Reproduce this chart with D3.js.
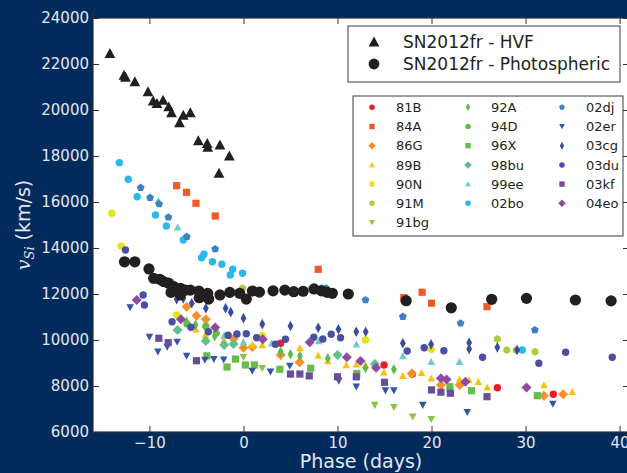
<!DOCTYPE html>
<html><head><meta charset="utf-8">
<script src="https://cdn.jsdelivr.net/npm/d3@7"></script>
<style>body{margin:0;background:#022b5d;} svg{display:block}</style>
</head><body><svg id="c" width="627" height="473"></svg>
<script>
// ---------- DATA ----------
const xTicks = [-10, 0, 10, 20, 30, 40];
const yTicks = [6000, 8000, 10000, 12000, 14000, 16000, 18000, 20000, 22000, 24000];

const hvfPhase = [-14.2,-12.7,-12.55,-11.55,-10.15,-9.6,-9.2,-8.55,-7.95,-7.65,-6.4,-6.8,-5.65,-4.8,-3.85,-3.8,-2.5,-1.5,-2.6];
const hvfVel   = [22460,21520,21430,21230,20800,20400,20290,20430,20140,19880,19780,19450,19880,18670,18550,18380,18480,18000,17250];

const photPhase = [-12.65,-11.55,-10.05,-9.55,-8.9,-8.5,-7.95,-7.7,-7.4,-6.7,-6.7,-6.15,-5.65,-4.75,-4.7,-3.8,-3.7,-2.5,-1.45,-0.4,0.3,0.95,1.7,3.15,4.4,5.35,6.35,7.5,8.3,8.9,9.45,11.15,17.3,22.1,26.4,30.1,35.3,39.1];
const photVel   = [13400,13400,13090,12680,12640,12540,12470,12070,12320,12250,11960,12170,12170,12130,11840,12030,11780,11960,12070,12030,11780,12130,12080,12140,12170,12100,12120,12220,12140,12070,12030,12000,11710,11400,11770,11810,11740,11700];

const sn81B = [[3.95,9860],[14.95,8913],[17.95,8520],[27.0,7926],[32.95,7640]];
const sn84A = [[-7.1,16710],[-6.05,16420],[-5.05,15945],[-3.0,15390],[7.95,13075],[17.05,11840],[19.0,12075],[20.0,11600],[25.9,11450]];
const sn86G = [[-6.05,11450],[-5.0,11050],[-4.0,10900],[-1.05,10050],[0.0,9660],[0.95,9700],[3.95,9350],[5.97,9035],[17.9,8540],[21.0,8043],[23.0,8043],[31.95,7580],[34.0,7640]];
const sn89B = [[-5.05,10465],[-4.05,10220],[-2.1,10000],[0.95,9800],[2.0,9783],[6.0,9650],[7.95,9320],[8.97,9087],[10.93,8913],[11.99,8943],[12.98,8913],[14.93,8596],[16.95,8448],[18.94,8578],[19.97,8335],[22.98,8290],[23.97,8261],[24.97,8187],[25.92,7943],[31.95,8043],[34.97,7752]];
const sn90N = [[-14.0,15510],[-13.0,14090],[-7.1,11090],[2.0,10190],[12.98,10000],[19.97,9596]];
const sn91M = [[-0.1,12250],[27.0,10043],[28.0,9565],[29.0,9565],[31.0,9490]];
const sn91bg = [[0.0,9250],[2.0,8770],[13.97,7170],[16.0,7074],[18.0,6665],[19.97,6552]];
const sn92A = [[-6.05,10796],[-5.1,10650],[-4.05,10580],[-3.05,10170],[3.95,9490],[5.0,9380],[6.0,9300],[8.97,9204],[12.98,8785],[16.0,8730]];
const sn94D = [[-6.0,10700],[-4.0,10600],[-2.9,10300]];
const sn96X = [[-3.9,9310],[-1.75,8825],[-0.85,9170],[0.2,8913],[1.17,8913],[3.87,8726],[7.15,8770],[12.05,8540],[21.95,7970],[24.25,7796],[31.25,7578]];
const sn98bu = [[-7.0,10435],[-4.0,9957],[-2.05,9783],[-1.05,9826],[10.0,9348],[13.97,8960]];
const sn99ee = [[-9.05,16057],[-7.0,14900],[-2.05,10200],[0.0,9926],[3.0,9857],[8.0,9957],[12.0,9813],[16.95,9304],[19.97,9057],[22.98,9057]];
const sn02bo = [[-13.2,17710],[-12.25,16990],[-11.3,16230],[-9.35,15435],[-8.2,14957],[-6.4,14348],[-4.45,13578],[-4.2,13726],[-3.3,13404],[-2.3,13291],[-1.15,13074],[-1.4,12826],[-0.1,12900],[8.3,12250],[29.65,9565]];
const sn02dj = [[-10.93,16622],[-9.93,16187],[-8.97,15913],[-7.98,15335],[-6.03,14491],[-3.01,13957],[8.8,12250],[12.98,11739],[16.95,11013],[23.09,10726],[30.99,10435]];
const sn02er = [[-12.05,11410],[-10.0,10130],[-9.1,9490],[-8.1,9700],[-7.05,9910],[-6.05,9304],[-4.1,9130],[-3.15,9165],[-2.1,9145],[0.93,8650],[2.87,8620],[4.93,8870],[10.14,8217],[12.0,7970],[15.1,7800],[16.0,7800],[19.07,7170],[23.8,6860],[32.9,7220]];
const sn03cg = [[-7.1,11770],[-6.4,11810],[-5.5,11600],[-4.0,11380],[-1.9,11380],[-1.35,11210],[0.0,10950],[2.0,10690],[5.0,10610],[7.95,10535],[10.1,10465],[12.0,10360],[13.0,10360],[16.95,9860],[19.95,9810],[24.0,9880],[24.0,9610],[27.0,9680],[29.1,9565]];
const sn03du = [[-12.55,13913],[-10.67,11957],[-10.53,11522],[-7.59,10796],[-5.59,10552],[-3.74,10361],[-1.63,10204],[-0.69,10261],[0.3,10274],[1.41,10100],[3.4,9813],[4.47,10030],[7.48,10117],[8.44,10043],[9.33,10248],[10.32,10100],[17.41,9522],[19.22,9665],[21.31,9535],[25.43,9248],[31.41,8987],[34.26,9465],[39.22,9248]];
const sn03kf = [[-9.0,10075],[-8.0,9885],[-5.0,9100],[5.0,8520],[6.0,8520],[7.0,8440],[10.0,8400],[12.0,8400],[15.0,8160],[20.0,7830],[21.0,7730],[22.0,7685],[25.9,7535]];
const sn04eo = [[-11.35,11740],[-6.65,10900],[-3.0,10540],[2.05,10030],[7.05,9900],[11.0,9250],[12.45,9090],[14.1,8790],[21.0,8335],[21.6,8280],[23.6,8190],[30.1,7930]];

const seriesNames = ["81B","84A","86G","89B","90N","91M","91bg","92A","94D","96X","98bu","99ee","02bo","02dj","02er","03cg","03du","03kf","04eo"];
const seriesData = [sn81B,sn84A,sn86G,sn89B,sn90N,sn91M,sn91bg,sn92A,sn94D,sn96X,sn98bu,sn99ee,sn02bo,sn02dj,sn02er,sn03cg,sn03du,sn03kf,sn04eo];

// ---------- STYLE ----------
const seriesColors = ["#ec1c24","#f15a24","#f7902a","#fdc010","#e4e21b","#a8cf3a","#86c441","#5eb94a","#66bc46","#66bc48","#5ebf8c","#6ccbcb","#2ab8ec","#3d80c3","#3456a6","#3a4c9e","#4a4fa2","#6a4c9d","#8d4b9f"];
const seriesShapes = ["circle","square","diamond","triUp","circle","hex","triDown","thin","circle","square","diamond","triUp","circle","pent","triDown","thin","circle","square","diamond"];
const shapeSize = {circle:3.7, square:3.6, diamond:5.0, thin:5.3, triUp:3.8, triDown:3.8, pent:4.1, hex:4.0};

function markerPath(shape, r) {
  const p = d3.path();
  if (shape === "circle") { p.moveTo(r,0); p.arc(0,0,r,0,2*Math.PI); }
  else if (shape === "square") { p.rect(-r,-r,2*r,2*r); }
  else if (shape === "diamond") { p.moveTo(0,-r); p.lineTo(r,0); p.lineTo(0,r); p.lineTo(-r,0); p.closePath(); }
  else if (shape === "thin") { const w=r*0.55; p.moveTo(0,-r); p.lineTo(w,0); p.lineTo(0,r); p.lineTo(-w,0); p.closePath(); }
  else if (shape === "triUp") { p.moveTo(0,-r); p.lineTo(r,r*0.85); p.lineTo(-r,r*0.85); p.closePath(); }
  else if (shape === "triDown") { p.moveTo(0,r); p.lineTo(r,-r*0.85); p.lineTo(-r,-r*0.85); p.closePath(); }
  else if (shape === "pent" || shape === "hex") {
    const n = shape === "pent" ? 5 : 6;
    for (let i=0;i<n;i++){ const a=-Math.PI/2+i*2*Math.PI/n; const px=r*Math.cos(a), py=r*Math.sin(a); if(i===0)p.moveTo(px,py); else p.lineTo(px,py);} p.closePath();
  }
  return p.toString();
}

// ---------- CHART ----------
const svg = d3.select("#c");
const W=627, H=473;
svg.append("rect").attr("width",W).attr("height",H).attr("fill","#022b5d");
const L=93, R=629, T=18, B=432;
const x = d3.scaleLinear().domain([-16,41]).range([L,R]);
const y = d3.scaleLinear().domain([6000,24000]).range([B,T]);

svg.append("rect").attr("x",L).attr("y",T).attr("width",R-L).attr("height",B-T).attr("fill","#ffffff");

const plot = svg.append("g");
seriesData.forEach((data,i)=>{
  const path = markerPath(seriesShapes[i], shapeSize[seriesShapes[i]]);
  plot.append("g").selectAll("path").data(data).join("path")
    .attr("d", path)
    .attr("transform", d=>`translate(${x(d[0])},${y(d[1])})`)
    .attr("fill", seriesColors[i]);
});
const phot = photPhase.map((p,i)=>[p,photVel[i]]);
const hvf = hvfPhase.map((p,i)=>[p,hvfVel[i]]);
plot.append("g").selectAll("path").data(phot).join("path")
  .attr("d", markerPath("circle",5.6))
  .attr("transform", d=>`translate(${x(d[0])},${y(d[1])})`).attr("fill","#231f20");
plot.append("g").selectAll("path").data(hvf).join("path")
  .attr("d", markerPath("triUp",5.4))
  .attr("transform", d=>`translate(${x(d[0])},${y(d[1])})`).attr("fill","#231f20");

// axes
const tickCol = "#e4e7ee";
const font = "DejaVu Sans, sans-serif";
const gx = svg.append("g").attr("transform",`translate(0,${B})`)
  .call(d3.axisBottom(x).tickValues(xTicks).tickSizeInner(-6).tickSizeOuter(0).tickPadding(5));
const gy = svg.append("g").attr("transform",`translate(${L},0)`)
  .call(d3.axisLeft(y).tickValues(yTicks).tickFormat(d3.format("d")).tickSizeInner(-6).tickSizeOuter(0).tickPadding(4));
const gt = svg.append("g").attr("transform",`translate(0,${T})`)
  .call(d3.axisTop(x).tickValues(xTicks).tickSizeInner(-6).tickSizeOuter(0).tickFormat(""));
const gr = svg.append("g").attr("transform",`translate(${R},0)`)
  .call(d3.axisRight(y).tickValues(yTicks).tickSizeInner(-6).tickSizeOuter(0).tickFormat(""));
[gx,gy,gt,gr].forEach(g=>{
  g.select(".domain").remove();
  g.selectAll(".tick line").attr("stroke","#333").attr("stroke-width",1);
  g.selectAll(".tick text").attr("fill",tickCol).style("font-family",font).style("font-size","15px");
});
svg.append("rect").attr("x",L).attr("y",T).attr("width",R-L).attr("height",B-T)
  .attr("fill","none").attr("stroke","#2d2d2d").attr("stroke-width",1.2);

// axis labels
svg.append("text").attr("x",(L+R)/2).attr("y",468).attr("text-anchor","middle")
  .attr("fill",tickCol).style("font-family",font).style("font-size","19px").text("Phase (days)");
const yl = svg.append("text").attr("transform","translate(30,225) rotate(-90)").attr("text-anchor","middle")
  .attr("fill",tickCol).style("font-family",font).style("font-size","19px");
yl.append("tspan").style("font-family","DejaVu Serif, serif").style("font-style","italic").text("v");
yl.append("tspan").style("font-family","DejaVu Serif, serif").style("font-style","italic").style("font-size","13px").attr("dy",4).text("Si");
yl.append("tspan").attr("dy",-4).text(" (km/s)");

// legend 1
const lg1 = svg.append("g");
lg1.append("rect").attr("x",348).attr("y",26).attr("width",272).attr("height",56).attr("fill","#fff").attr("stroke","#3a3a3a").attr("stroke-width",1);
const lg1Items = [["triUp","SN2012fr - HVF",42],["circle","SN2012fr - Photospheric",64]];
lg1Items.forEach(([s,t,yy])=>{
  lg1.append("path").attr("d",markerPath(s,5.4)).attr("transform",`translate(374,${yy})`).attr("fill","#231f20");
  lg1.append("text").attr("x",403).attr("y",yy).attr("dy","0.36em").attr("fill","#231f20")
    .style("font-family",font).style("font-size","17px").text(t);
});

// legend 2
const lg2 = svg.append("g");
lg2.append("rect").attr("x",353).attr("y",96).attr("width",270).attr("height",140).attr("fill","#fff").attr("stroke","#3a3a3a").attr("stroke-width",1);
const colX = [372,468,562], colT=[396,491,586];
const colCounts = [7,6,6];
seriesNames.forEach((name,i)=>{
  let c=0, r=i;
  while (r>=colCounts[c]) { r-=colCounts[c]; c++; }
  const yy = 107.3 + r*19.2;
  lg2.append("path").attr("d",markerPath(seriesShapes[i], shapeSize[seriesShapes[i]]*0.75))
    .attr("transform",`translate(${colX[c]},${yy})`).attr("fill",seriesColors[i]);
  lg2.append("text").attr("x",colT[c]).attr("y",yy).attr("dy","0.36em").attr("fill","#231f20")
    .style("font-family",font).style("font-size","13px").text(name);
});
</script></body></html>
